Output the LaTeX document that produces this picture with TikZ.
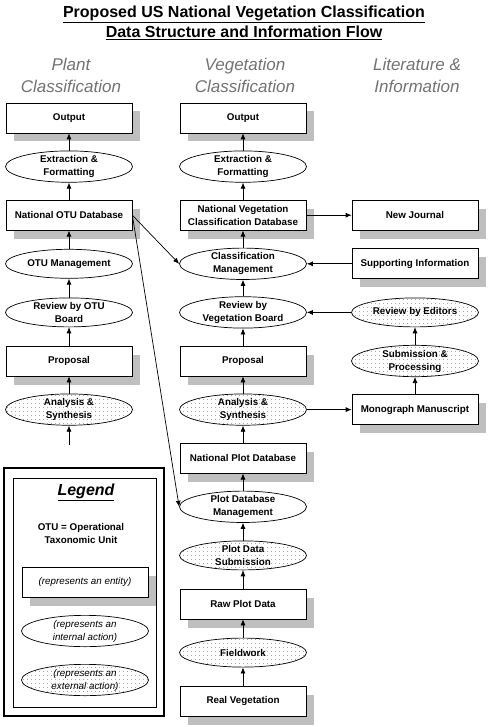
\documentclass[tikz,border=0pt]{standalone}
\usepackage{fontspec}
\setmainfont{Liberation Sans}
\usetikzlibrary{positioning,shapes,arrows.meta,shadows,patterns.meta}

\begin{document}
\begin{tikzpicture}[x=1pt,y=-1pt,line width=.7pt,>={Latex[length=6pt,width=5pt]},
	font=\fontsize{9.8}{13}\selectfont\bfseries,
	ent/.style={draw,fill=white,align=center,minimum width=126pt,minimum height=30pt,
		general shadow={fill=black!25,shadow xshift=8pt,shadow yshift=-8.5pt}},
	act/.style={draw,ellipse,fill=white,align=center,minimum width=127pt,minimum height=29pt,
		inner xsep=-20pt,inner ysep=0pt},
	ext/.style={act,pattern={Dots[distance=4pt,radius=.45pt]},pattern color=black!70},
	head/.style={font=\fontsize{17}{22}\selectfont\itshape,text=black!55,align=center}]
	\useasboundingbox (0,0) rectangle (489,727);

	\node (T) at (244,23) [font=\fontsize{16}{20}\selectfont\bfseries,align=center]
		{\underline{Proposed US National Vegetation Classification}\\\underline{Data Structure and Information Flow}};
	\node (HP) at (71,75) [head] {Plant\\Classification};
	\node (HV) at (245,75) [head] {Vegetation\\Classification};
	\node (HL) at (417,75) [head] {Literature \&\\Information};

	\node (P1) at (69,118) [ent] {Output};
	\node (P2) at (69,166.6) [act] {Extraction \&\\Formatting};
	\node (P3) at (69,215.2) [ent] {National OTU Database};
	\node (P4) at (69,263.8) [act] {OTU Management};
	\node (P5) at (69,312.4) [act] {Review by OTU\\Board};
	\node (P6) at (69,361) [ent] {Proposal};
	\node (P7) at (69,409.6) [ext] {Analysis \&\\Synthesis};
	\coordinate (P8) at (69,445);

	\node (V1) at (243,118) [ent] {Output};
	\node (V2) at (243,166.6) [act] {Extraction \&\\Formatting};
	\node (V3) at (243,215.2) [ent] {National Vegetation\\Classification Database};
	\node (V4) at (243,263.8) [act] {Classification\\Management};
	\node (V5) at (243,312.4) [act] {Review by\\Vegetation Board};
	\node (V6) at (243,361) [ent] {Proposal};
	\node (V7) at (243,409.6) [ext] {Analysis \&\\Synthesis};
	\node (V8) at (243,458.2) [ent] {National Plot Database};
	\node (V9) at (243,506.8) [act] {Plot Database\\Management};
	\node (V10) at (243,555.4) [ext] {Plot Data\\Submission};
	\node (V11) at (243,604) [ent] {Raw Plot Data};
	\node (V12) at (243,652.6) [ext] {Fieldwork};
	\node (V13) at (243,701.2) [ent] {Real Vegetation};

	\node (L1) at (415,215.2) [ent] {New Journal};
	\node (L2) at (415,263.8) [ent] {Supporting Information};
	\node (L3) at (415,312.4) [ext] {Review by Editors};
	\node (L4) at (415,361) [ext] {Submission \&\\Processing};
	\node (L5) at (415,409.6) [ent] {Monograph Manuscript};

	\draw [line width=1.4pt] (4,468) rectangle (164,716);
	\draw (13,478) rectangle (156,707);
	\node (G1) at (86,492) [font=\fontsize{16}{20}\selectfont\bfseries\itshape] {\underline{Legend}};
	\node (G2) at (81,533) [align=center] {OTU = Operational\\Taxonomic Unit};
	\node (G3) at (85,582) [ent,font=\fontsize{9.8}{13}\selectfont\itshape] {(represents an entity)};
	\node (G4) at (85,631) [act,font=\fontsize{9.8}{13}\selectfont\itshape] {(represents an\\internal action)};
	\node (G5) at (85,680) [ext,font=\fontsize{9.8}{13}\selectfont\itshape] {(represents an\\external action)};

	\draw [->] (P2) -- (P1);
	\draw [->] (P3) -- (P2);
	\draw [->] (P4) -- (P3);
	\draw [->] (P5) -- (P4);
	\draw [->] (P6) -- (P5);
	\draw [->] (P7) -- (P6);
	\draw [->] (P8) -- (P7);

	\draw [->] (V2) -- (V1);
	\draw [->] (V3) -- (V2);
	\draw [->] (V4) -- (V3);
	\draw [->] (V5) -- (V4);
	\draw [->] (V6) -- (V5);
	\draw [->] (V7) -- (V6);
	\draw [->] (V8) -- (V7);
	\draw [->] (V9) -- (V8);
	\draw [->] (V10) -- (V9);
	\draw [->] (V11) -- (V10);
	\draw [->] (V12) -- (V11);
	\draw [->] (V13) -- (V12);

	\draw [->] (V3) -- (L1);
	\draw [->] (L2) -- (V4);
	\draw [->] (L3) -- (V5);
	\draw [->] (L4) -- (L3);
	\draw [->] (L5) -- (L4);
	\draw [->] (V7) -- (L5);
	\draw [->] (P3.east) -- (V4.west);
	\draw [->] (P3.east) -- (V9.west);

\end{tikzpicture}
\end{document}
